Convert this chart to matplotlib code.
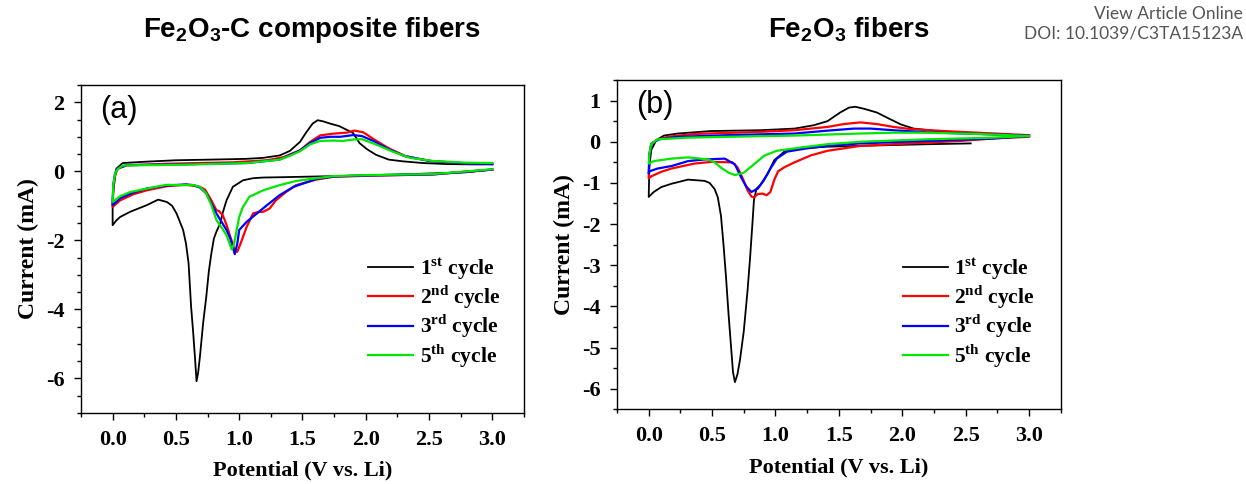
import matplotlib
matplotlib.use("Agg")
import matplotlib.pyplot as plt
from matplotlib.ticker import MultipleLocator, FormatStrFormatter

plt.rcParams['font.family'] = ['Liberation Serif', 'DejaVu Sans']
plt.rcParams['font.weight'] = 'bold'
plt.rcParams['axes.unicode_minus'] = False
plt.rcParams['mathtext.fontset'] = 'custom'
plt.rcParams['mathtext.rm'] = 'Liberation Serif:bold'
plt.rcParams['mathtext.bf'] = 'Liberation Serif:bold'
plt.rcParams['mathtext.sf'] = 'Liberation Sans:bold'

# ---- panel (a): Fe2O3-C composite fibers, each cycle as one loop (3.0 V -> 0 V -> 3.0 V)
a_v1 = [3.0, 2.79, 2.27, 1.74, 1.35, 1.19, 1.11, 1.03, 0.95, 0.90, 0.87, 0.85, 0.82, 0.80,
        0.78, 0.76, 0.74, 0.715, 0.69, 0.675, 0.663, 0.65, 0.635, 0.62, 0.60, 0.58, 0.557,
        0.53, 0.505, 0.47, 0.43, 0.36, 0.27, 0.14, 0.06, 0.03, 0.0,
        0.0, 0.015, 0.03, 0.08, 0.27, 0.50, 0.79, 1.05, 1.19, 1.32, 1.40, 1.48, 1.53, 1.58,
        1.62, 1.66, 1.72, 1.79, 1.85, 1.90, 1.95, 2.01, 2.08, 2.18, 2.29, 2.45, 2.64, 2.85, 3.0]
a_i1 = [0.05, -0.03, -0.09, -0.14, -0.17, -0.18, -0.20, -0.26, -0.45, -0.84, -1.20, -1.51, -1.75, -1.95,
        -2.38, -2.90, -3.63, -4.40, -5.36, -5.85, -6.08, -5.36, -4.60, -3.92, -2.66, -2.10, -1.70,
        -1.45, -1.22, -1.00, -0.89, -0.82, -0.98, -1.17, -1.32, -1.42, -1.56,
        -0.80, -0.26, 0.08, 0.24, 0.28, 0.32, 0.34, 0.36, 0.39, 0.46, 0.59, 0.85, 1.13, 1.38,
        1.48, 1.45, 1.38, 1.31, 1.20, 1.11, 0.82, 0.64, 0.48, 0.34, 0.29, 0.24, 0.21, 0.20, 0.20]

a_v2 = [3.0, 2.53, 2.01, 1.74, 1.61, 1.45, 1.37, 1.29, 1.24, 1.19, 1.15, 1.11, 1.06, 1.03,
        1.01, 0.985, 0.965, 0.95, 0.93, 0.90, 0.87, 0.84, 0.82, 0.78, 0.73, 0.69, 0.66, 0.58,
        0.43, 0.27, 0.16, 0.06, 0.0,
        0.005, 0.02, 0.04, 0.11, 0.43, 0.95, 1.22, 1.35, 1.48, 1.56, 1.64, 1.74, 1.85, 1.91,
        1.98, 2.08, 2.19, 2.32, 2.53, 2.79, 3.0]
a_i2 = [0.05, -0.09, -0.13, -0.16, -0.24, -0.40, -0.60, -0.84, -1.08, -1.17, -1.18, -1.22, -1.60, -1.90,
        -2.10, -2.33, -2.30, -2.10, -1.90, -1.55, -1.27, -1.15, -1.13, -0.84, -0.53, -0.45, -0.43, -0.39,
        -0.43, -0.55, -0.67, -0.84, -1.03,
        -0.50, -0.10, 0.08, 0.17, 0.22, 0.26, 0.32, 0.41, 0.61, 0.85, 1.04, 1.09, 1.12, 1.18,
        1.13, 0.89, 0.65, 0.43, 0.29, 0.23, 0.22]

a_v3 = [3.0, 2.53, 2.01, 1.74, 1.61, 1.43, 1.32, 1.22, 1.14, 1.06, 1.0, 0.985, 0.965, 0.95,
        0.93, 0.90, 0.86, 0.82, 0.78, 0.74, 0.69, 0.64, 0.58, 0.43, 0.27, 0.16, 0.06, 0.0,
        0.005, 0.02, 0.04, 0.11, 0.53, 1.06, 1.32, 1.48, 1.56, 1.64, 1.72, 1.80, 1.90,
        1.97, 2.06, 2.17, 2.30, 2.50, 2.79, 3.0]
a_i3 = [0.05, -0.09, -0.12, -0.15, -0.22, -0.45, -0.69, -0.98, -1.22, -1.46, -1.70, -2.10, -2.40, -2.20,
        -1.95, -1.70, -1.46, -1.22, -0.93, -0.64, -0.47, -0.40, -0.38, -0.41, -0.50, -0.62, -0.78, -0.98,
        -0.40, -0.05, 0.08, 0.18, 0.20, 0.24, 0.34, 0.60, 0.82, 0.97, 1.00, 1.00, 1.05,
        1.02, 0.88, 0.66, 0.45, 0.30, 0.23, 0.21]

a_v5 = [3.0, 2.53, 2.01, 1.74, 1.61, 1.45, 1.32, 1.19, 1.08, 1.03, 1.0, 0.98, 0.96, 0.94,
        0.92, 0.90, 0.86, 0.82, 0.78, 0.74, 0.69, 0.64, 0.53, 0.43, 0.27, 0.14, 0.06, 0.0,
        0.005, 0.02, 0.04, 0.08, 0.53, 1.06, 1.32, 1.40, 1.48, 1.56, 1.64, 1.74, 1.82, 1.90,
        1.97, 2.08, 2.22, 2.35, 2.53, 2.79, 3.0]
a_i5 = [0.06, -0.08, -0.11, -0.14, -0.20, -0.28, -0.40, -0.55, -0.74, -1.03, -1.32, -1.70, -2.10, -2.26,
        -2.05, -1.85, -1.62, -1.41, -0.98, -0.64, -0.45, -0.40, -0.40, -0.39, -0.50, -0.60, -0.72, -0.89,
        -0.40, -0.05, 0.06, 0.17, 0.19, 0.24, 0.34, 0.45, 0.58, 0.78, 0.88, 0.89, 0.88, 0.92,
        0.93, 0.78, 0.56, 0.39, 0.30, 0.25, 0.24]

# ---- panel (b): Fe2O3 fibers (1st cycle starts at OCV ~2.54 V)
b_v1 = [2.54, 2.20, 1.93, 1.67, 1.41, 1.20, 1.07, 0.99, 0.94, 0.88, 0.85, 0.83, 0.82, 0.80,
        0.78, 0.75, 0.72, 0.70, 0.68, 0.665, 0.65, 0.63, 0.61, 0.59, 0.57, 0.545, 0.52, 0.48,
        0.44, 0.31, 0.18, 0.10, 0.04, 0.0,
        0.005, 0.02, 0.06, 0.12, 0.23, 0.49, 0.88, 1.15, 1.30, 1.41, 1.51, 1.58, 1.63, 1.70,
        1.80, 1.89, 1.99, 2.09, 2.27, 2.59, 3.0]
b_i1 = [-0.04, -0.06, -0.08, -0.10, -0.12, -0.16, -0.24, -0.45, -0.77, -1.05, -1.14, -1.42, -1.90, -2.80,
        -3.60, -4.60, -5.30, -5.65, -5.84, -5.60, -5.00, -4.20, -3.30, -2.50, -1.80, -1.35, -1.15, -1.00,
        -0.95, -0.92, -1.02, -1.10, -1.22, -1.34,
        -0.61, -0.20, 0.04, 0.15, 0.20, 0.26, 0.28, 0.32, 0.40, 0.50, 0.71, 0.83, 0.85, 0.80,
        0.71, 0.57, 0.42, 0.32, 0.26, 0.20, 0.15]

b_v2 = [3.0, 2.72, 2.46, 2.20, 1.93, 1.67, 1.41, 1.28, 1.15, 1.07, 1.02, 0.99, 0.96, 0.93,
        0.90, 0.86, 0.83, 0.81, 0.78, 0.74, 0.70, 0.66, 0.49, 0.36, 0.18, 0.10, 0.02, 0.0,
        0.005, 0.02, 0.07, 0.15, 0.36, 0.88, 1.15, 1.41, 1.54, 1.67, 1.80, 1.93, 2.06, 2.33,
        2.59, 3.0]
b_i2 = [0.12, 0.08, 0.02, -0.02, -0.06, -0.10, -0.22, -0.33, -0.50, -0.62, -0.72, -0.93, -1.22, -1.30,
        -1.26, -1.27, -1.35, -1.33, -1.18, -0.88, -0.62, -0.50, -0.49, -0.53, -0.65, -0.73, -0.84, -0.89,
        -0.30, -0.05, 0.05, 0.12, 0.19, 0.24, 0.28, 0.36, 0.43, 0.47, 0.43, 0.36, 0.31, 0.26,
        0.22, 0.16]

b_v3 = [3.0, 2.72, 2.20, 1.67, 1.41, 1.25, 1.09, 1.01, 0.96, 0.91, 0.86, 0.81, 0.77, 0.73,
        0.68, 0.60, 0.44, 0.31, 0.18, 0.07, 0.005, 0.0,
        0.005, 0.02, 0.08, 0.23, 0.62, 1.15, 1.41, 1.62, 1.75, 1.93, 2.20, 2.59, 3.0]
b_i3 = [0.14, 0.08, 0.02, -0.04, -0.10, -0.16, -0.24, -0.41, -0.65, -0.93, -1.14, -1.22, -1.09, -0.87,
        -0.55, -0.41, -0.43, -0.47, -0.59, -0.65, -0.72, -0.77,
        -0.35, -0.05, 0.06, 0.12, 0.16, 0.20, 0.27, 0.32, 0.32, 0.28, 0.23, 0.19, 0.15]

b_v5 = [3.0, 2.72, 2.20, 1.67, 1.41, 1.20, 1.01, 0.91, 0.83, 0.75, 0.68, 0.63, 0.57, 0.52,
        0.47, 0.31, 0.18, 0.04, 0.0,
        0.005, 0.02, 0.07, 0.31, 0.62, 1.15, 1.67, 1.93, 2.20, 2.59, 3.0]
b_i5 = [0.14, 0.10, 0.06, 0.0, -0.06, -0.14, -0.22, -0.34, -0.55, -0.75, -0.81, -0.75, -0.63, -0.50,
        -0.43, -0.38, -0.41, -0.47, -0.53,
        -0.30, -0.05, 0.06, 0.10, 0.12, 0.15, 0.20, 0.22, 0.22, 0.19, 0.14]

labels = [r'1$^{\mathbf{st}}$ cycle', r'2$^{\mathbf{nd}}$ cycle',
          r'3$^{\mathbf{rd}}$ cycle', r'5$^{\mathbf{th}}$ cycle']
colors = ['#000000', '#ff0000', '#0000ff', '#00e800']
widths = [1.3, 1.6, 1.6, 1.6]

fig = plt.figure(figsize=(12.46, 4.84), dpi=100)
ax_a = fig.add_axes([0.065, 0.1467, 0.3555, 0.6777])
ax_b = fig.add_axes([0.4952, 0.1543, 0.3561, 0.6804])

panels = [
    (ax_a, [(a_v1, a_i1), (a_v2, a_i2), (a_v3, a_i3), (a_v5, a_i5)], (-7, 2.5), 2, '(a)', 0.648, 0.48),
    (ax_b, [(b_v1, b_i1), (b_v2, b_i2), (b_v3, b_i3), (b_v5, b_i5)], (-6.5, 1.5), 1, '(b)', 0.644, 0.467),
]

for ax, curves, ylim, ymaj, tag, lx, ly in panels:
    for (v, i), lab, c, lw in zip(curves, labels, colors, widths):
        ax.plot(v, i, color=c, lw=lw, label=lab)
    ax.set_xlim(-0.25, 3.25)
    ax.set_ylim(*ylim)
    ax.xaxis.set_major_locator(MultipleLocator(0.5))
    ax.xaxis.set_minor_locator(MultipleLocator(0.25))
    ax.yaxis.set_major_locator(MultipleLocator(ymaj))
    ax.yaxis.set_minor_locator(MultipleLocator(0.5))
    ax.xaxis.set_major_formatter(FormatStrFormatter('%.1f'))
    ax.yaxis.set_major_formatter(FormatStrFormatter('%d'))
    ax.tick_params(which='both', direction='out', top=False, right=False, labelsize=16, width=1)
    ax.tick_params(which='major', length=5, pad=7)
    ax.tick_params(which='minor', length=3)
    for s in ax.spines.values():
        s.set_linewidth(1.0)
    ax.set_xlabel('Potential (V vs. Li)', fontsize=16, fontweight='bold', labelpad=8)
    ax.set_ylabel('Current (mA)', fontsize=17, fontweight='bold', labelpad=5)
    ax.text(0.043, 0.924, tag, transform=ax.transAxes, fontsize=22, fontweight='normal',
            family='Liberation Sans', va='center', ha='left')
    ax.legend(loc='upper left', bbox_to_anchor=(lx, ly), frameon=False, fontsize=15.5,
              handlelength=2.1, handletextpad=0.3, labelspacing=0.07, borderpad=0,
              borderaxespad=0)

fig.text(0.2504, 0.938, r'Fe$_{\mathsf{2}}$O$_{\mathsf{3}}$-C composite fibers', family='Liberation Sans',
         fontsize=20, fontweight='bold', ha='center', va='center')
fig.text(0.6814, 0.938, r'Fe$_{\mathsf{2}}$O$_{\mathsf{3}}$ fibers', family='Liberation Sans',
         fontsize=20, fontweight='bold', ha='center', va='center')
fig.text(0.9976, 0.972, 'View Article Online', family='Lato', fontsize=12.5, fontweight='normal',
         color='#555555', ha='right', va='center')
fig.text(0.9976, 0.930, 'DOI: 10.1039/C3TA15123A', family='Lato', fontsize=12.5, fontweight='normal',
         color='#555555', ha='right', va='center')

fig.savefig('out.png', dpi=100)
